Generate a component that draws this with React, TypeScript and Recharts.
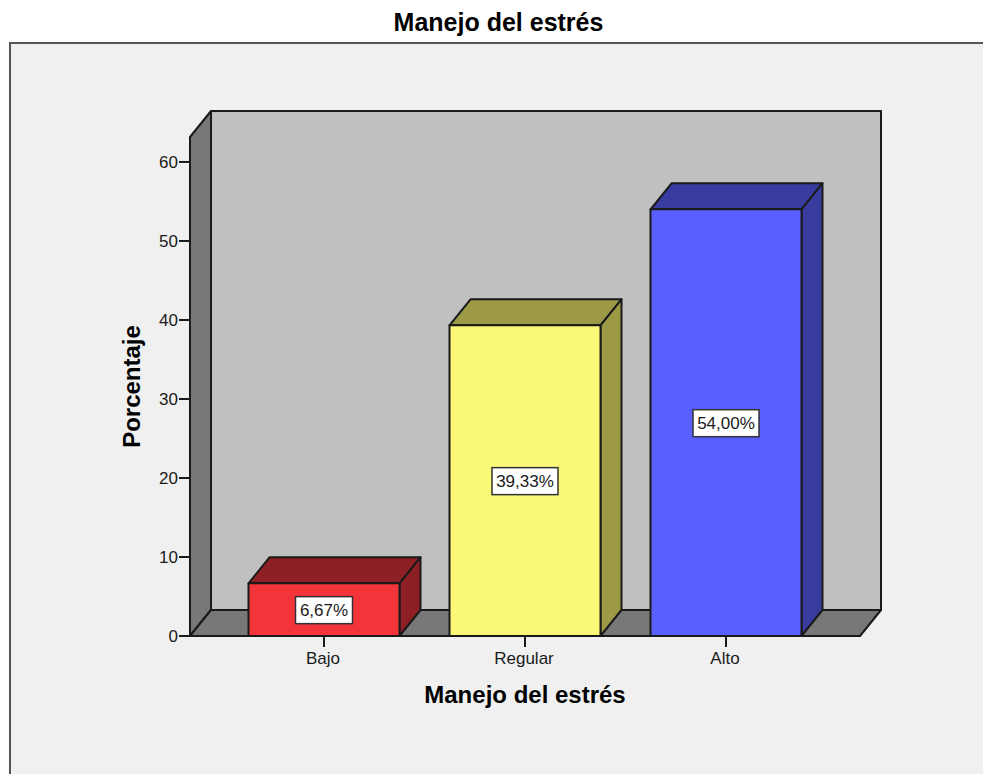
import { Bar, BarChart, LabelList, Label, ReferenceArea, XAxis, YAxis, usePlotArea } from 'recharts';

const categories = ['Bajo', 'Regular', 'Alto'];
const percentages = [6.67, 39.33, 54.0];
const yTicks = [0, 10, 20, 30, 40, 50, 60];

const frontColors = ['#f3343a', '#fbf778', '#5a60ff'];
const sideColors = ['#8e1f24', '#9c9a46', '#383c9e'];

const data = categories.map((name, i) => ({ name, value: percentages[i] }));

const FONT = '"Liberation Sans", Arial, sans-serif';
const INK = '#1a1a1a';
const DX = 21;
const DY = 26;

function Walls(props: any) {
  // the area's own x is inset by the axis padding, the walls span the whole plot
  const plot = usePlotArea();
  const { y, height } = props;
  const x = plot ? plot.x : props.x;
  const width = plot ? plot.width : props.width;
  const bottom = y + height;
  const right = x + width;
  return (
    <g stroke={INK} strokeWidth={2} strokeLinejoin="round">
      <rect x={x + DX} y={y - DY} width={width} height={height} fill="#c0c0c0" />
      <polygon points={`${x},${y} ${x + DX},${y - DY} ${x + DX},${bottom - DY} ${x},${bottom}`} fill="#787878" />
      <polygon points={`${x},${bottom} ${x + DX},${bottom - DY} ${right + DX},${bottom - DY} ${right},${bottom}`} fill="#787878" />
    </g>
  );
}

function Box3D(props: any) {
  const { x, y, width, height, index } = props;
  const right = x + width;
  const bottom = y + height;
  const side = sideColors[index];
  return (
    <g stroke={INK} strokeWidth={2} strokeLinejoin="round">
      <polygon points={`${x},${y} ${x + DX},${y - DY} ${right + DX},${y - DY} ${right},${y}`} fill={side} />
      <polygon points={`${right},${y} ${right + DX},${y - DY} ${right + DX},${bottom - DY} ${right},${bottom}`} fill={side} />
      <rect x={x} y={y} width={width} height={height} fill={frontColors[index]} />
    </g>
  );
}

function ValueTag(props: any) {
  const { x, y, width, height, value } = props;
  const text = `${Number(value).toFixed(2).replace('.', ',')}%`;
  const w = text.length * 9 + 12;
  const cx = x + width / 2;
  const cy = y + height / 2;
  return (
    <g>
      <rect x={cx - w / 2} y={cy - 13} width={w} height={27} fill="#ffffff" stroke="#333333" strokeWidth={1.5} />
      <text x={cx} y={cy + 6} textAnchor="middle" fontSize={17} fontFamily={FONT} fill={INK}>
        {text}
      </text>
    </g>
  );
}

export default function App() {
  return (
    <div style={{ position: 'absolute', left: 0, top: 0, width: 983, height: 774, overflow: 'hidden', background: '#ffffff', fontFamily: FONT }}>
      <div style={{ position: 'absolute', left: 0, width: 997, top: 7, textAlign: 'center', fontSize: 25, fontWeight: 700, color: '#000000', lineHeight: '30px' }}>
        Manejo del estrés
      </div>
      <div style={{ position: 'absolute', left: 9, top: 42, width: 1000, height: 800, background: '#f0f0f0', borderLeft: '2px solid #555555', borderTop: '2px solid #555555' }} />
      <div style={{ position: 'absolute', left: 0, top: 0 }}>
        <BarChart
          width={983}
          height={774}
          data={data}
          barSize={151}
          margin={{ top: 137, right: 123, bottom: 0, left: 0 }}
          style={{ fontFamily: FONT }}
        >
          <ReferenceArea yAxisId={0} xAxisId={0} y1={0} y2={63.16} shape={<Walls />} ifOverflow="visible" />
          <XAxis
            dataKey="name"
            height={138}
            padding={{ left: 33.5, right: 33.5 }}
            tickLine={{ stroke: INK, strokeWidth: 2 }}
            axisLine={{ stroke: INK, strokeWidth: 2 }}
            tickSize={11}
            tickMargin={5}
            tick={{ fontSize: 17, fill: INK, dx: -1 }}
            interval={0}
          >
            <Label value="Manejo del estrés" position="insideTop" offset={50} style={{ fontSize: 24, fontWeight: 700, fill: '#000000' }} />
          </XAxis>
          <YAxis
            width={190}
            domain={[0, 63.16]}
            ticks={yTicks}
            tickLine={{ stroke: INK, strokeWidth: 2 }}
            axisLine={{ stroke: INK, strokeWidth: 2 }}
            tickSize={11}
            tickMargin={1}
            tick={{ fontSize: 17, fill: INK }}
          >
            <Label value="Porcentaje" angle={-90} position="insideLeft" offset={131} style={{ fontSize: 24, fontWeight: 700, fill: '#000000', textAnchor: 'middle' }} />
          </YAxis>
          <Bar dataKey="value" shape={<Box3D />} isAnimationActive={false}>
            <LabelList dataKey="value" content={<ValueTag />} />
          </Bar>
        </BarChart>
      </div>
    </div>
  );
}
